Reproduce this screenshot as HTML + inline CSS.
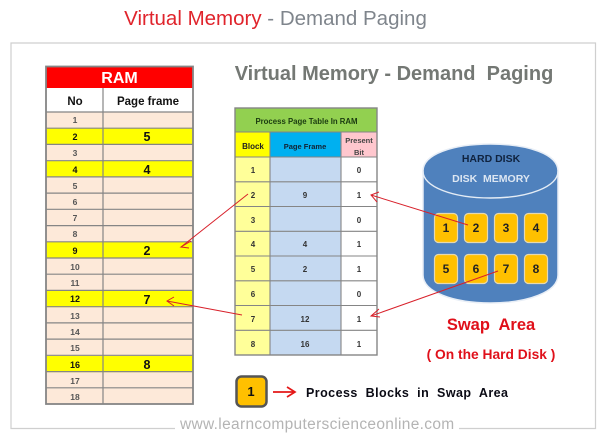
<!DOCTYPE html>
<html><head><meta charset="utf-8"><style>
html,body{margin:0;padding:0;background:#fff}
svg{display:block}
text{font-family:"Liberation Sans",sans-serif}
.c{text-anchor:middle}
.n{font-size:8.5px;font-weight:bold;fill:#555;text-anchor:middle}
.k{font-size:9px;font-weight:bold;fill:#111;text-anchor:middle}
.b{font-size:12.5px;font-weight:bold;fill:#111;text-anchor:middle}
.t{font-size:8px;font-weight:bold;fill:#333;text-anchor:middle}
.d{font-size:12px;font-weight:bold;fill:#222;text-anchor:middle}
</style></head><body>
<svg width="604" height="439" viewBox="0 0 604 439" xmlns="http://www.w3.org/2000/svg">
<rect width="604" height="439" fill="#fff"/>
<text x="275.500" y="25" class="c" font-size="20.500"><tspan fill="#e0242c">Virtual Memory</tspan><tspan fill="#7f858c"> - Demand Paging</tspan></text>
<path d="M459 428.500H595.500V43H11V428.500H175" fill="none" stroke="#cfcfcf" stroke-width="1.200"/>
<text x="394" y="80" class="c" font-size="20" font-weight="bold" fill="#747874" xml:space="preserve">Virtual Memory - Demand  Paging</text>

<!-- RAM table -->
<rect x="46" y="67" width="147" height="21" fill="#ff0000"/>
<rect x="46" y="88" width="147" height="24" fill="#fff"/>
<rect x="46" y="112" width="147" height="292" fill="#fde9d9"/>
<g fill="#ffff00">
<rect x="46" y="128" width="147" height="16.200"/>
<rect x="46" y="161" width="147" height="16.200"/>
<rect x="46" y="242" width="147" height="16.200"/>
<rect x="46" y="291" width="147" height="16.200"/>
<rect x="46" y="356" width="147" height="16.200"/>
</g>
<g stroke="#858585" stroke-width="1.200" fill="none">
<path d="M46 112H193M46 128.200H193M46 144.400H193M46 160.700H193M46 176.900H193M46 193.100H193M46 209.300H193M46 225.600H193M46 241.800H193M46 258H193M46 274.200H193M46 290.400H193M46 306.700H193M46 322.900H193M46 339.100H193M46 355.300H193M46 371.600H193M46 387.800H193"/>
<path d="M103 88V404"/>
<rect x="46" y="66.500" width="147" height="337.500" stroke-width="1.800"/>
</g>
<text x="119.500" y="83" class="c" font-size="16" font-weight="bold" fill="#fff">RAM</text>
<text x="75" y="105" class="c" font-size="11.500" font-weight="bold" fill="#111">No</text>
<text x="148" y="105" class="c" font-size="11.500" font-weight="bold" fill="#111">Page frame</text>
<g>
<text x="75" y="123" class="n">1</text>
<text x="75" y="140" class="k">2</text>
<text x="75" y="156" class="n">3</text>
<text x="75" y="173" class="k">4</text>
<text x="75" y="189" class="n">5</text>
<text x="75" y="205" class="n">6</text>
<text x="75" y="221" class="n">7</text>
<text x="75" y="237" class="n">8</text>
<text x="75" y="254" class="k">9</text>
<text x="75" y="270" class="n">10</text>
<text x="75" y="286" class="n">11</text>
<text x="75" y="302" class="k">12</text>
<text x="75" y="319" class="n">13</text>
<text x="75" y="335" class="n">14</text>
<text x="75" y="351" class="n">15</text>
<text x="75" y="368" class="k">16</text>
<text x="75" y="384" class="n">17</text>
<text x="75" y="400" class="n">18</text>
<text x="147" y="141" class="b">5</text>
<text x="147" y="174" class="b">4</text>
<text x="147" y="255" class="b">2</text>
<text x="147" y="304" class="b">7</text>
<text x="147" y="369" class="b">8</text>
</g>

<!-- Page table -->
<rect x="235" y="108" width="142" height="24" fill="#92d050"/>
<rect x="235" y="132" width="35" height="25" fill="#ffff00"/>
<rect x="270" y="132" width="71" height="25" fill="#00b0f0"/>
<rect x="341" y="132" width="36" height="25" fill="#ffc7ce"/>
<rect x="235" y="157" width="35" height="198" fill="#ffff99"/>
<rect x="270" y="157" width="71" height="198" fill="#c5d9f1"/>
<rect x="341" y="157" width="36" height="198" fill="#fff"/>
<g stroke="#858585" stroke-width="1.100" fill="none">
<path d="M235 132H377M235 157H377M235 181.800H377M235 206.500H377M235 231.300H377M235 256H377M235 280.800H377M235 305.500H377M235 330.300H377"/>
<path d="M270 132V355M341 132V355"/>
<rect x="235" y="108" width="142" height="247" stroke-width="1.400"/>
</g>
<text x="306.500" y="124" class="c" font-size="7.800" font-weight="bold" fill="#1a3a10">Process Page Table In RAM</text>
<text x="253" y="149" class="c" font-size="8" font-weight="bold" fill="#222">Block</text>
<text x="305" y="149" class="c" font-size="7.500" font-weight="bold" fill="#123">Page Frame</text>
<text x="359" y="143" class="c" font-size="7.500" font-weight="bold" fill="#444">Present</text>
<text x="359" y="155" class="c" font-size="7.500" font-weight="bold" fill="#444">Bit</text>
<g>
<text x="253" y="173" class="t">1</text><text x="359" y="173" class="t">0</text>
<text x="253" y="198" class="t">2</text><text x="305" y="198" class="t">9</text><text x="359" y="198" class="t">1</text>
<text x="253" y="223" class="t">3</text><text x="359" y="223" class="t">0</text>
<text x="253" y="247" class="t">4</text><text x="305" y="247" class="t">4</text><text x="359" y="247" class="t">1</text>
<text x="253" y="272" class="t">5</text><text x="305" y="272" class="t">2</text><text x="359" y="272" class="t">1</text>
<text x="253" y="297" class="t">6</text><text x="359" y="297" class="t">0</text>
<text x="253" y="322" class="t">7</text><text x="305" y="322" class="t">12</text><text x="359" y="322" class="t">1</text>
<text x="253" y="347" class="t">8</text><text x="305" y="347" class="t">16</text><text x="359" y="347" class="t">1</text>
</g>

<!-- Disk -->
<path d="M423 171C423 154 453 144 490.500 144C528 144 558 154 558 171V275C558 292 528 303 490.500 303C453 303 423 292 423 275Z" fill="#4f81bd" stroke="#e8eef6" stroke-width="1.500"/>
<path d="M423 171C423 187 453 198 490.500 198C528 198 558 187 558 171" fill="none" stroke="#e4ecf5" stroke-width="1.400"/>
<text x="491" y="162" class="c" font-size="10.500" font-weight="bold" fill="#10233f">HARD DISK</text>
<text x="491" y="182" class="c" font-size="10.500" font-weight="bold" fill="#dce6f2" xml:space="preserve">DISK  MEMORY</text>
<g fill="#ffc000" stroke="#e6d8ae" stroke-width="1.200">
<rect x="434.500" y="213.500" width="23" height="29" rx="4"/>
<rect x="464.500" y="213.500" width="23" height="29" rx="4"/>
<rect x="494.500" y="213.500" width="23" height="29" rx="4"/>
<rect x="524.500" y="213.500" width="23" height="29" rx="4"/>
<rect x="434.500" y="254.500" width="23" height="29" rx="4"/>
<rect x="464.500" y="254.500" width="23" height="29" rx="4"/>
<rect x="494.500" y="254.500" width="23" height="29" rx="4"/>
<rect x="524.500" y="254.500" width="23" height="29" rx="4"/>
</g>
<text x="446" y="232" class="d">1</text><text x="476" y="232" class="d">2</text><text x="506" y="232" class="d">3</text><text x="536" y="232" class="d">4</text>
<text x="446" y="273" class="d">5</text><text x="476" y="273" class="d">6</text><text x="506" y="273" class="d">7</text><text x="536" y="273" class="d">8</text>

<text x="491" y="330" class="c" font-size="16.500" font-weight="bold" fill="#e0101a" xml:space="preserve">Swap  Area</text>
<text x="491" y="359" class="c" font-size="13.800" font-weight="bold" fill="#e0101a">( On the Hard Disk )</text>

<!-- Legend -->
<rect x="236.500" y="376.500" width="30" height="30" rx="5" fill="#ffc000" stroke="#555" stroke-width="2.500"/>
<text x="251" y="396" class="c" font-size="13" font-weight="bold" fill="#111">1</text>
<path d="M273 392H294M287 387L295 392L287 397" fill="none" stroke="#e41818" stroke-width="1.700"/>
<text x="306" y="397" font-size="12.500" font-weight="bold" fill="#0a0a14" letter-spacing=".45" xml:space="preserve">Process  Blocks  in  Swap  Area</text>
<text x="180" y="429" font-size="15.500" fill="#b4b4b4" letter-spacing=".32">www.learncomputerscienceonline.com</text>

<!-- Connectors -->
<g fill="none" stroke="#d8202a" stroke-width="1">
<path d="M248 194L181 247"/><path d="M191 241L181 247L189 248" />
<path d="M242 315L167 301"/><path d="M174 297L167 301L174 306"/>
<path d="M468 225L371 195"/><path d="M379 192L371 195L377 202"/>
<path d="M498 271L371 316"/><path d="M379 309L371 316L380 317"/>
</g>
</svg>
</body></html>
